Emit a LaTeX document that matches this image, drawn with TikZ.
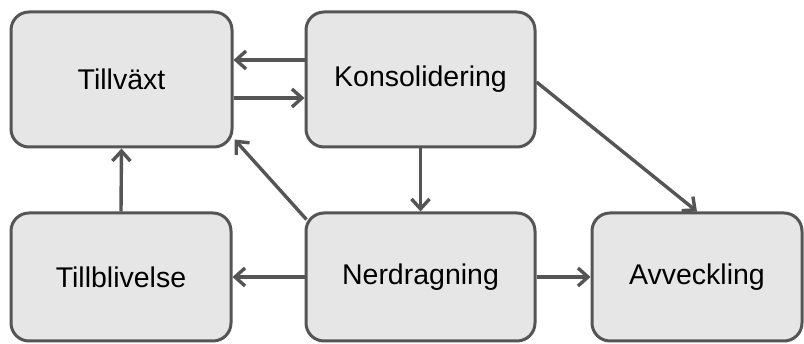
\documentclass[tikz,border=0pt]{standalone}
\usepackage{fontspec}
\setmainfont{Liberation Sans}
\usetikzlibrary{arrows.meta}
\definecolor{boxfill}{HTML}{E6E6E6}
\definecolor{edge}{HTML}{555555}
\begin{document}
\begin{tikzpicture}[x=1pt,y=-1pt,
  stage/.style={draw=edge, fill=boxfill, line width=3pt, rounded corners=18pt,
    minimum height=#1, inner sep=0pt, font=\fontsize{28.5}{34}\selectfont, text=black},
  conn/.style={draw=edge, line width=3.4pt, -{Straight Barb[length=10pt,width=18pt]}}]
\useasboundingbox (0,0) rectangle (804,344);
\node[stage=135pt, minimum width=221pt] (tv) at (121.5,79.5) {Tillväxt};
\node[stage=135pt, minimum width=229pt] (ko) at (420.5,79.5) {Konsolidering};
\node[stage=128pt, minimum width=220pt] (tb) at (121,277) {Tillblivelse};
\node[stage=128pt, minimum width=229pt] (nd) at (420.5,277) {Nerdragning};
\node[stage=128pt, minimum width=210pt] (av) at (697,277) {Avveckling};
\draw[conn] ([yshift=19.5pt]ko.west) -- ([yshift=19.5pt]tv.east);
\draw[conn] ([yshift=-18.5pt]tv.east) -- ([yshift=-18.5pt]ko.west);
\draw[conn] (tb.north) -- (tv.south);
\draw[conn] (ko.south) -- (nd.north);
\draw[conn] ([xshift=2pt,yshift=-8pt]nd.north west) -- ([xshift=1pt,yshift=9pt]tv.south east);
\draw[conn] ([yshift=-2.5pt]ko.east) -- (av.north);
\draw[conn] (nd.west) -- (tb.east);
\draw[conn] (nd.east) -- (av.west);
\end{tikzpicture}
\end{document}
